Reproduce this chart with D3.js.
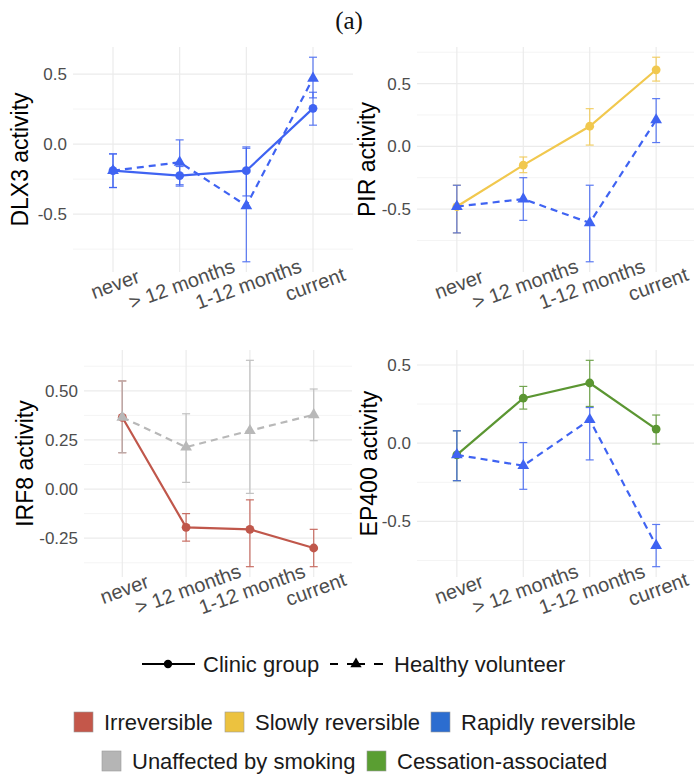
<!DOCTYPE html>
<html lang="en">
<head>
<meta charset="UTF-8">
<title>Activity</title>
<style>
  body { margin: 0; background: #fff; }
  svg { font-family: "Liberation Sans", Arial, sans-serif; }
</style>
</head>
<body>
<div id="chart"></div>
<script src="https://cdn.jsdelivr.net/npm/d3@7/dist/d3.min.js"></script>
<script>
  const categories = ["never", "> 12 months", "1-12 months", "current"];

  // reversibility groups (legend) and their colours
  const groupNames = ["Irreversible", "Slowly reversible", "Rapidly reversible", "Unaffected by smoking", "Cessation-associated"];
  const groupFill = ["#c4574a", "#ecc23f", "#2c6dd0", "#b5b5b5", "#5a9e32"];
  const groupLine = ["#c0574b", "#f1c84e", "#3f63f2", "#b8b8b8", "#5b9632"];

  // DLX3
  const dlx3Clinic = [-0.19, -0.225, -0.19, 0.255];
  const dlx3ClinicLo = [-0.31, -0.30, -0.37, 0.135];
  const dlx3ClinicHi = [-0.07, -0.16, -0.03, 0.37];
  const dlx3Healthy = [-0.19, -0.13, -0.44, 0.47];
  const dlx3HealthyLo = [-0.31, -0.29, -0.84, 0.33];
  const dlx3HealthyHi = [-0.07, 0.03, -0.02, 0.62];

  // PIR
  const pirClinic = [-0.48, -0.15, 0.16, 0.61];
  const pirClinicLo = [-0.69, -0.21, 0.01, 0.52];
  const pirClinicHi = [-0.31, -0.085, 0.30, 0.71];
  const pirHealthy = [-0.48, -0.42, -0.61, 0.21];
  const pirHealthyLo = [-0.69, -0.59, -0.92, 0.03];
  const pirHealthyHi = [-0.31, -0.25, -0.31, 0.38];

  // IRF8
  const irf8Clinic = [0.365, -0.195, -0.205, -0.30];
  const irf8ClinicLo = [0.185, -0.265, -0.395, -0.395];
  const irf8ClinicHi = [0.55, -0.125, -0.055, -0.205];
  const irf8Healthy = [0.365, 0.213, 0.297, 0.378];
  const irf8HealthyLo = [0.185, 0.034, -0.022, 0.246];
  const irf8HealthyHi = [0.55, 0.383, 0.655, 0.509];

  // EP400
  const ep400Clinic = [-0.075, 0.288, 0.385, 0.09];
  const ep400ClinicLo = [-0.24, 0.218, 0.235, -0.005];
  const ep400ClinicHi = [0.079, 0.363, 0.53, 0.18];
  const ep400Healthy = [-0.075, -0.144, 0.15, -0.655];
  const ep400HealthyLo = [-0.24, -0.295, -0.107, -0.79];
  const ep400HealthyHi = [0.079, 0.004, 0.228, -0.52];

  const halfTicks = [-0.5, 0, 0.5];
  const quarterTicks = [-0.25, 0, 0.25, 0.5];

  const panels = [
    { gene: "DLX3", clinic: [dlx3Clinic, dlx3ClinicLo, dlx3ClinicHi], healthy: [dlx3Healthy, dlx3HealthyLo, dlx3HealthyHi],
      clinicGroup: 2, healthyGroup: 2, ticks: halfTicks, fmt: ".1f" },
    { gene: "PIR", clinic: [pirClinic, pirClinicLo, pirClinicHi], healthy: [pirHealthy, pirHealthyLo, pirHealthyHi],
      clinicGroup: 1, healthyGroup: 2, ticks: halfTicks, fmt: ".1f" },
    { gene: "IRF8", clinic: [irf8Clinic, irf8ClinicLo, irf8ClinicHi], healthy: [irf8Healthy, irf8HealthyLo, irf8HealthyHi],
      clinicGroup: 0, healthyGroup: 3, ticks: quarterTicks, fmt: ".2f" },
    { gene: "EP400", clinic: [ep400Clinic, ep400ClinicLo, ep400ClinicHi], healthy: [ep400Healthy, ep400HealthyLo, ep400HealthyHi],
      clinicGroup: 4, healthyGroup: 2, ticks: halfTicks, fmt: ".1f" }
  ];

  // panel boxes on the page
  const boxes = [
    { left: 73, right: 353, top: 47, bottom: 272, titleX: 20 },
    { left: 417, right: 696, top: 47, bottom: 272, titleX: 367 },
    { left: 84, right: 352, top: 350, bottom: 577, titleX: 25 },
    { left: 417, right: 696, top: 350, bottom: 577, titleX: 369 }
  ];

  const width = 694, height = 776;
  const svg = d3.select("#chart").append("svg")
    .attr("width", width)
    .attr("height", height);

  svg.append("text")
    .attr("x", 349).attr("y", 29)
    .attr("text-anchor", "middle")
    .style("font-family", "'Liberation Serif', 'Times New Roman', serif")
    .style("font-size", "25px")
    .attr("fill", "#111")
    .text("(a)");

  panels.forEach((p, i) => {
    const b = boxes[i];
    const g = svg.append("g");

    const x = d3.scalePoint().domain(categories).range([b.left, b.right]).padding(0.6);

    const all = p.clinic[1].concat(p.clinic[2], p.healthy[1], p.healthy[2]);
    const lo = d3.min(all), hi = d3.max(all);
    const pad = (hi - lo) * 0.05;
    const y = d3.scaleLinear().domain([lo - pad, hi + pad]).range([b.bottom, b.top]);

    // minor grid
    const step = p.ticks[1] - p.ticks[0];
    const minor = [];
    for (let k = -1; k < p.ticks.length; k++) {
      const v = p.ticks[0] + step * (k + 0.5);
      if (v > y.domain()[0] && v < y.domain()[1]) minor.push(v);
    }
    g.selectAll(".minor").data(minor).join("line")
      .attr("x1", b.left).attr("x2", b.right)
      .attr("y1", d => y(d)).attr("y2", d => y(d))
      .attr("stroke", "#f4f4f4").attr("stroke-width", 1);

    g.selectAll(".major").data(p.ticks).join("line")
      .attr("x1", b.left).attr("x2", b.right)
      .attr("y1", d => y(d)).attr("y2", d => y(d))
      .attr("stroke", "#ebebeb").attr("stroke-width", 1.2);

    g.selectAll(".vgrid").data(categories).join("line")
      .attr("x1", d => x(d)).attr("x2", d => x(d))
      .attr("y1", b.top).attr("y2", b.bottom)
      .attr("stroke", "#ebebeb").attr("stroke-width", 1.2);

    // y tick labels
    const fmt = d3.format(p.fmt);
    g.selectAll(".ytick").data(p.ticks).join("text")
      .attr("x", b.left - 6)
      .attr("y", d => y(d))
      .attr("dy", "0.35em")
      .attr("text-anchor", "end")
      .attr("fill", "#4d4d4d")
      .style("font-size", "17px")
      .text(d => fmt(d).replace("−", "-"));

    // x tick labels
    g.selectAll(".xtick").data(categories).join("text")
      .attr("transform", d => `translate(${x(d) + 2},${b.bottom + 12}) rotate(-20)`)
      .attr("text-anchor", "middle")
      .attr("dy", "0.35em")
      .attr("fill", "#4d4d4d")
      .style("font-size", "20px")
      .text(d => d);

    // y title
    g.append("text")
      .attr("transform", `translate(${b.titleX},${(b.top + b.bottom) / 2}) rotate(-90)`)
      .attr("text-anchor", "middle")
      .attr("dy", "0.35em")
      .attr("fill", "#000")
      .style("font-size", "23px")
      .text(p.gene + " activity");

    const series = [
      { vals: p.clinic, color: groupLine[p.clinicGroup], dash: null, shape: "circle" },
      { vals: p.healthy, color: groupLine[p.healthyGroup], dash: "7,5", shape: "triangle" }
    ];

    series.forEach(s => {
      const pts = categories.map((c, j) => ({ c, m: s.vals[0][j], lo: s.vals[1][j], hi: s.vals[2][j] }));
      const eb = g.append("g").attr("stroke", s.color).attr("stroke-width", 1.2).attr("opacity", 0.85);
      eb.selectAll(".v").data(pts).join("line")
        .attr("x1", d => x(d.c)).attr("x2", d => x(d.c))
        .attr("y1", d => y(d.lo)).attr("y2", d => y(d.hi));
      eb.selectAll(".capl").data(pts).join("line")
        .attr("x1", d => x(d.c) - 4).attr("x2", d => x(d.c) + 4)
        .attr("y1", d => y(d.lo)).attr("y2", d => y(d.lo));
      eb.selectAll(".caph").data(pts).join("line")
        .attr("x1", d => x(d.c) - 4).attr("x2", d => x(d.c) + 4)
        .attr("y1", d => y(d.hi)).attr("y2", d => y(d.hi));
    });

    series.forEach(s => {
      const pts = categories.map((c, j) => ({ c, m: s.vals[0][j] }));
      const line = d3.line().x(d => x(d.c)).y(d => y(d.m));
      g.append("path")
        .datum(pts)
        .attr("d", line)
        .attr("fill", "none")
        .attr("stroke", s.color)
        .attr("stroke-width", 2.2)
        .attr("stroke-dasharray", s.dash);

      if (s.shape === "circle") {
        g.selectAll(null).data(pts).join("circle")
          .attr("cx", d => x(d.c)).attr("cy", d => y(d.m))
          .attr("r", 4.4)
          .attr("fill", s.color);
      } else {
        const tri = d3.symbol().type(d3.symbolTriangle).size(60);
        g.selectAll(null).data(pts).join("path")
          .attr("d", tri)
          .attr("transform", d => `translate(${x(d.c)},${y(d.m)})`)
          .attr("fill", s.color);
      }
    });
  });

  // legend: line types
  const lg = svg.append("g").style("font-size", "22px").attr("fill", "#1a1a1a");
  const ly = 664;
  lg.append("line").attr("x1", 142).attr("x2", 195).attr("y1", ly).attr("y2", ly)
    .attr("stroke", "#000").attr("stroke-width", 2);
  lg.append("circle").attr("cx", 168).attr("cy", ly).attr("r", 4.2).attr("fill", "#000");
  lg.append("text").attr("x", 203).attr("y", ly).attr("dy", "0.35em").text("Clinic group");
  lg.append("line").attr("x1", 330).attr("x2", 383).attr("y1", ly).attr("y2", ly)
    .attr("stroke", "#000").attr("stroke-width", 2).attr("stroke-dasharray", "8,9,18,9,9");
  lg.append("path").attr("d", d3.symbol().type(d3.symbolTriangle).size(55))
    .attr("transform", `translate(356,${ly})`).attr("fill", "#000");
  lg.append("text").attr("x", 394).attr("y", ly).attr("dy", "0.35em").text("Healthy volunteer");

  // legend: groups
  const rows = [
    { y: 722, items: [0, 1, 2], xs: [74, 225, 431] },
    { y: 761, items: [3, 4], xs: [102, 367] }
  ];
  rows.forEach(r => {
    r.items.forEach((gi, k) => {
      lg.append("rect")
        .attr("x", r.xs[k]).attr("y", r.y - 10)
        .attr("width", 19).attr("height", 20)
        .attr("fill", groupFill[gi])
        .attr("stroke", "#9a9a9a").attr("stroke-width", 0.6);
      lg.append("text")
        .attr("x", r.xs[k] + 30).attr("y", r.y)
        .attr("dy", "0.35em")
        .text(groupNames[gi]);
    });
  });
</script>
</body>
</html>
